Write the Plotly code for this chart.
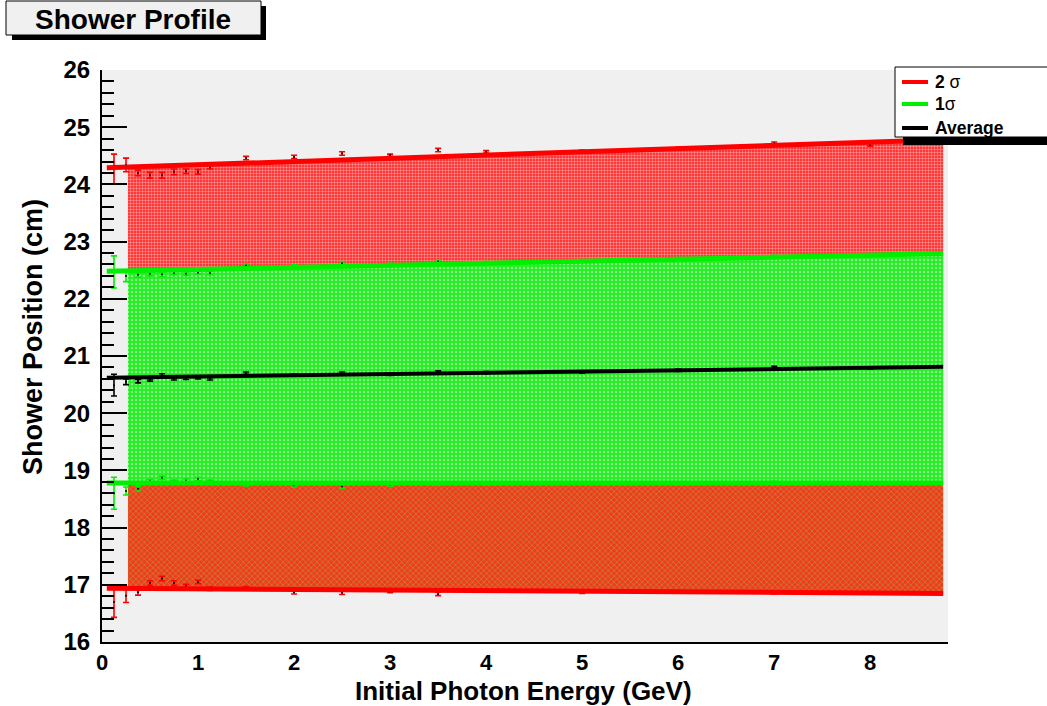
import plotly.graph_objects as go

# ---------------- data ----------------
x_pts = [0.125, 0.25, 0.375, 0.5, 0.625, 0.75, 0.875, 1.0, 1.125, 1.5,
         2.0, 2.5, 3.0, 3.5, 4.0, 5.0, 6.0, 7.0, 8.0]

red_up_vals = [24.27, 24.34, 24.20, 24.16, 24.16, 24.22, 24.23, 24.22, 24.30, 24.46,
               24.48, 24.54, 24.51, 24.60, 24.57, 24.58, 24.63, 24.72, 24.69]
red_up_err = [0.26, 0.12, 0.05, 0.05, 0.05, 0.05, 0.04, 0.04, 0.03, 0.03,
              0.03, 0.03, 0.02, 0.03, 0.02, 0.02, 0.02, 0.02, 0.02]

green_up_vals = [22.47, 22.40, 22.42, 22.44, 22.43, 22.45, 22.44, 22.46, 22.45, 22.58,
                 22.57, 22.62, 22.60, 22.65, 22.63, 22.66, 22.70, 22.74, 22.76]
green_up_err = [0.28, 0.10, 0.04, 0.04, 0.04, 0.03, 0.03, 0.03, 0.03, 0.03,
                0.03, 0.03, 0.02, 0.03, 0.02, 0.02, 0.02, 0.02, 0.02]

avg_vals = [20.49, 20.55, 20.56, 20.58, 20.67, 20.60, 20.61, 20.62, 20.60, 20.70,
            20.67, 20.70, 20.68, 20.72, 20.71, 20.72, 20.75, 20.80, 20.79]
avg_err = [0.19, 0.05, 0.03, 0.02, 0.02, 0.02, 0.02, 0.02, 0.02, 0.02,
           0.02, 0.02, 0.02, 0.02, 0.02, 0.02, 0.02, 0.02, 0.02]

green_lo_vals = [18.60, 18.64, 18.68, 18.81, 18.87, 18.80, 18.82, 18.85, 18.80, 18.76,
                 18.74, 18.72, 18.75, 18.76, 18.77, 18.78, 18.77, 18.79, 18.78]
green_lo_err = [0.28, 0.07, 0.04, 0.03, 0.03, 0.03, 0.03, 0.03, 0.03, 0.03,
                0.03, 0.03, 0.02, 0.02, 0.02, 0.02, 0.02, 0.02, 0.02]

red_lo_vals = [16.70, 16.81, 16.87, 17.03, 17.11, 17.03, 16.98, 17.05, 16.93, 16.94,
               16.87, 16.86, 16.88, 16.84, 16.90, 16.87, 16.88, 16.86, 16.86]
red_lo_err = [0.27, 0.12, 0.05, 0.04, 0.04, 0.04, 0.03, 0.03, 0.03, 0.03,
              0.03, 0.03, 0.02, 0.03, 0.02, 0.02, 0.02, 0.02, 0.02]

# fitted lines (endpoints)
fit_x = [0.05, 8.76]
fit_red_up = [24.29, 24.78]
fit_green_up = [22.48, 22.79]
fit_avg = [20.62, 20.81]
fit_green_lo = [18.78, 18.78]
fit_red_lo = [16.94, 16.85]

# filled bands (endpoints)
band_x = [0.27, 8.76]
band_red_up = [24.30, 24.78]
band_green_up = [22.49, 22.79]
band_green_lo = [18.78, 18.78]
band_red_lo = [16.94, 16.85]

x_ticks = [0, 1, 2, 3, 4, 5, 6, 7, 8]
y_ticks = [16, 17, 18, 19, 20, 21, 22, 23, 24, 25, 26]

RED = "#ff0000"
GREEN = "#00ee00"
BLACK = "#000000"
FONT = "Liberation Sans, Arial, Helvetica, sans-serif"

# ---------------- geometry (pixels) ----------------
W, H = 1047, 706
L, R, T, B = 102, 99, 70, 64
PW, PH = W - L - R, H - T - B


def px(xp):
    return (xp - L) / PW


def py(yp):
    return (H - B - yp) / PH


fig = go.Figure()


def band(lo, hi, bg, fg, shape, size, sol):
    xs = band_x + band_x[::-1]
    ys = lo + hi[::-1]
    fig.add_trace(go.Scatter(
        x=xs, y=ys, mode="lines", fill="toself",
        line=dict(width=0, color=bg),
        fillcolor=bg,
        fillpattern=dict(shape=shape, bgcolor=bg, fgcolor=fg, size=size, solidity=sol),
        hoverinfo="skip", showlegend=False))


band(band_green_up, band_red_up, "#ff1a1a", "#ffffff", ".", 3, 0.5)
band(band_green_lo, band_green_up, "#22ee22", "#ffffff", ".", 4, 0.3)
band(band_red_lo, band_green_lo, "#f03c1c", "#7ee060", "x", 4, 0.3)


def pts(vals, errs, color):
    fig.add_trace(go.Scatter(
        x=x_pts, y=vals, mode="markers",
        marker=dict(size=2, color=BLACK),
        error_y=dict(type="data", array=errs, visible=True, color=color,
                     thickness=1.6, width=3),
        hoverinfo="skip", showlegend=False))


pts(red_up_vals, red_up_err, RED)
pts(green_up_vals, green_up_err, GREEN)
pts(avg_vals, avg_err, BLACK)
pts(green_lo_vals, green_lo_err, GREEN)
pts(red_lo_vals, red_lo_err, RED)


def fit(vals, color, w):
    fig.add_trace(go.Scatter(x=fit_x, y=vals, mode="lines",
                             line=dict(color=color, width=w),
                             hoverinfo="skip", showlegend=False))


fit(fit_red_lo, RED, 5)
fit(fit_green_lo, GREEN, 5)
fit(fit_green_up, GREEN, 5)
fit(fit_red_up, RED, 5)
fit(fit_avg, BLACK, 4)

shapes = []
annotations = []

# title box with shadow
shapes.append(dict(type="rect", xref="paper", yref="paper",
                   x0=px(12), x1=px(266), y0=py(40), y1=py(6),
                   fillcolor="black", line=dict(width=0), layer="above"))
shapes.append(dict(type="rect", xref="paper", yref="paper",
                   x0=px(6), x1=px(261), y0=py(35), y1=py(1),
                   fillcolor="#f0f0f0", line=dict(width=1, color="black"), layer="above"))
annotations.append(dict(xref="paper", yref="paper", x=px(133), y=py(19),
                        text="<b>Shower Profile</b>", showarrow=False,
                        font=dict(family=FONT, size=28, color="black"),
                        xanchor="center", yanchor="middle"))

# legend box with shadow
shapes.append(dict(type="rect", xref="paper", yref="paper",
                   x0=px(903), x1=px(1060), y0=py(145), y1=py(74),
                   fillcolor="black", line=dict(width=0), layer="above"))
shapes.append(dict(type="rect", xref="paper", yref="paper",
                   x0=px(895), x1=px(1060), y0=py(137), y1=py(67),
                   fillcolor="white", line=dict(width=1, color="black"), layer="above"))
legend_items = [("<b>2</b> σ", RED, 82), ("<b>1</b>σ", GREEN, 104), ("<b>Average</b>", BLACK, 128)]
for txt, col, yy in legend_items:
    shapes.append(dict(type="line", xref="paper", yref="paper",
                       x0=px(902), x1=px(928), y0=py(yy), y1=py(yy),
                       line=dict(color=col, width=4), layer="above"))
    annotations.append(dict(xref="paper", yref="paper", x=px(933), y=py(yy),
                            text=txt, showarrow=False,
                            font=dict(family=FONT, size=17.5, color="black"),
                            xanchor="left", yanchor="middle"))

# axis titles
annotations.append(dict(xref="paper", yref="paper", x=px(523), y=py(691),
                        text="<b>Initial Photon Energy (GeV)</b>", showarrow=False,
                        font=dict(family=FONT, size=26, color="black"),
                        xanchor="center", yanchor="middle"))
annotations.append(dict(xref="paper", yref="paper", x=px(33), y=py(337),
                        text="<b>Shower Position (cm)</b>", showarrow=False, textangle=-90,
                        font=dict(family=FONT, size=27, color="black"),
                        xanchor="center", yanchor="middle"))

fig.update_layout(
    width=W, height=H,
    margin=dict(l=L, r=R, t=T, b=B, autoexpand=False),
    paper_bgcolor="white",
    plot_bgcolor="#f0f0f0",
    showlegend=False,
    shapes=shapes,
    annotations=annotations,
    xaxis=dict(range=[0, 8.81], tickvals=x_ticks,
               ticktext=["<b>%d</b>" % v for v in x_ticks],
               ticks="", showgrid=False, zeroline=False,
               showline=True, linecolor="black", linewidth=2,
               tickfont=dict(family=FONT, size=22, color="black"),
               ticklabelstandoff=0),
    yaxis=dict(range=[16, 26], tickvals=y_ticks,
               ticktext=["<b>%d</b>" % v for v in y_ticks],
               ticks="inside", ticklen=25, tickwidth=2, tickcolor="black",
               minor=dict(ticks="inside", ticklen=12, tickwidth=2, tickcolor="black",
                          dtick=0.2, showgrid=False),
               showgrid=False, zeroline=False,
               showline=True, linecolor="black", linewidth=2,
               tickfont=dict(family=FONT, size=24, color="black"),
               ticklabelstandoff=5),
)

fig.write_html("out.html", config={"displayModeBar": False},
               post_script="document.body.style.margin='0px';")
